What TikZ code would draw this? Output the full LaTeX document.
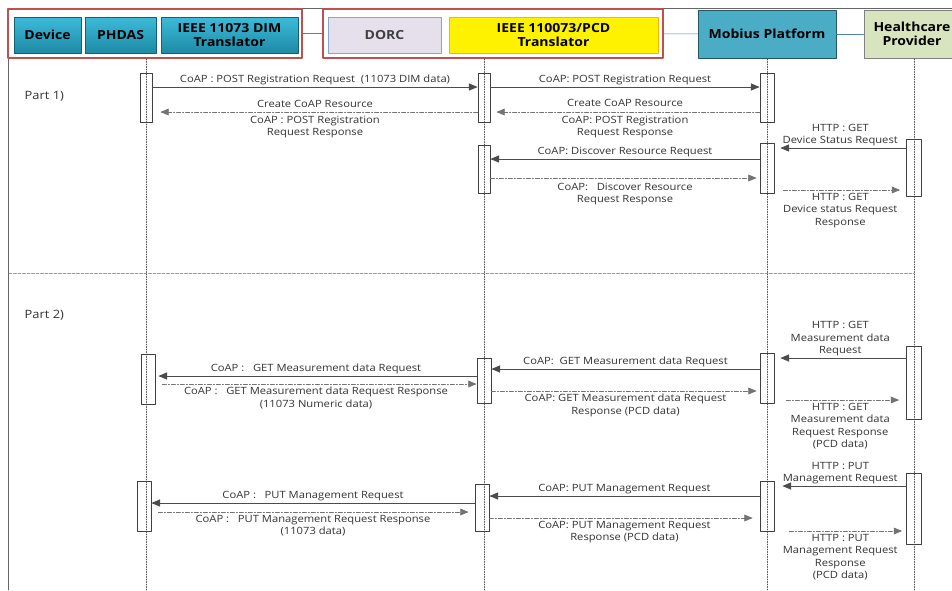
\documentclass[tikz,border=0pt]{standalone}
\usepackage{fontspec}
\setmainfont{Open Sans}
\newfontfamily\lblfont[FakeStretch=1.12]{Open Sans}
\usetikzlibrary{arrows}
\definecolor{tealtop}{HTML}{3CBBD9}
\definecolor{tealbot}{HTML}{1E8AA6}
\definecolor{mobfill}{HTML}{4BACC6}
\definecolor{hcpfill}{HTML}{D7E4BD}
\definecolor{dorcfill}{HTML}{E6E0EC}
\definecolor{grpred}{HTML}{C0504D}
\definecolor{linkblue}{HTML}{4F81BD}

\begin{document}
\begin{tikzpicture}[line cap=round,line join=round,>=triangle 45,x=1pt,y=-1pt,
  head/.style={draw=tealbot!70!black,top color=tealtop,bottom color=tealbot,inner sep=0,
    minimum height=36,align=center,font=\lblfont\fontsize{12.5}{13.5}\selectfont\bfseries},
  grp/.style={draw=grpred,line width=1.2pt,inner sep=0},
  link/.style={draw=linkblue,line width=0.5pt},
  life/.style={draw=black!70,line width=0.6pt,dash pattern=on 1pt off 1.5pt},
  act/.style={draw=black!75,line width=0.9pt,minimum width=12,inner sep=0},
  req/.style={->,draw=black!70,line width=1pt},
  rsp/.style={->,draw=black!55,line width=0.9pt,dash pattern=on 4pt off 2pt on 1pt off 2pt},
  lbl/.style={text=black!80,align=center,inner sep=1.5pt,font=\lblfont\fontsize{10}{12.5}\selectfont}]
\useasboundingbox (0,0) rectangle (952,590);
\fill[white] (0,0) rectangle (952,590);
% frame
\draw[black!60,line width=0.8pt] (952,8.5) -- (8.5,8.5) -- (8.5,590);
% header
\node[grp,minimum width=294,minimum height=49] (g1) at (155,33.5) {};
\node[grp,minimum width=340,minimum height=49] (g2) at (493,33.5) {};
\node[head,minimum width=67] (dev) at (47.5,35) {Device};
\node[head,minimum width=71] (phdas) at (120.5,35) {PHDAS};
\node[head,minimum width=137] (dim) at (229.5,35) {IEEE 11073 DIM\\Translator};
\node[draw=linkblue!70,fill=dorcfill,inner sep=0,minimum width=113,minimum height=36,
  font=\lblfont\fontsize{12.5}{13.5}\selectfont\bfseries,text=black!75] (dorc) at (384.5,35) {DORC};
\node[draw=orange!60!yellow,fill=yellow,inner sep=0,minimum width=209,minimum height=36,
  align=center,font=\lblfont\fontsize{12.5}{13.5}\selectfont\bfseries] (pcd) at (553.5,35) {IEEE 110073/PCD\\Translator};
\node[draw=mobfill!50!black,line width=1pt,fill=mobfill,inner sep=0,minimum width=138,minimum height=48,
  font=\lblfont\fontsize{12.5}{13.5}\selectfont\bfseries] (mob) at (767,34) {Mobius Platform};
\node[draw=black!50,line width=1pt,fill=hcpfill,inner sep=0,minimum width=96,minimum height=48,
  align=center,font=\lblfont\fontsize{12.5}{14}\selectfont\bfseries] (hcp) at (912,34) {Healthcare\\Provider};
\draw[link] (g1) -- (g2);
\draw[link] (g2) -- (mob);
\draw[link] (mob) -- (hcp);
% lifelines
\draw[life] (146,59) -- (146,590);
\draw[life] (484,59) -- (484,590);
\draw[life] (767,59) -- (767,590);
\draw[life] (914,59) -- (914,590);
\node[lbl,anchor=west,font=\lblfont\fontsize{11.5}{13}\selectfont] (p1) at (23,96) {Part 1)};
\node[lbl,anchor=west,font=\lblfont\fontsize{11.5}{13}\selectfont] (p2) at (23,315) {Part 2)};
\draw[black!40,line width=0.8pt,dash pattern=on 3pt off 1.5pt] (9,273) -- (914,273);
% part 1
\node[act,minimum height=49] (a1) at (146,97.5) {};
\node[act,minimum height=49] (b1) at (484,97.5) {};
\node[act,minimum height=49,minimum width=14] (c1) at (767,97.5) {};
\node[act,minimum height=48] (b2) at (484,169) {};
\node[act,minimum height=50,minimum width=14] (c2) at (767,168) {};
\node[act,minimum height=57,minimum width=15] (d1) at (914,167.5) {};
\draw[req] (a1.east |- 0,87) -- (b1.west |- 0,87)
  node[lbl,midway,above] {CoAP : POST Registration Request \ (11073 DIM data)};
\draw[rsp,shorten >=8pt] (b1.west |- 0,112) -- (a1.east |- 0,112)
  node[lbl,midway,above=2pt] {Create CoAP Resource}
  node[lbl,midway,below=2pt] {CoAP : POST Registration\\Request Response};
\draw[req] (b1.east |- 0,87) -- (c1.west |- 0,87)
  node[lbl,midway,above] {CoAP: POST Registration Request};
\draw[rsp,shorten >=6pt] (c1.west |- 0,112) -- (b1.east |- 0,112)
  node[lbl,midway,above=3pt] {Create CoAP Resource}
  node[lbl,midway,below=2pt] {CoAP: POST Registration\\Request Response};
\draw[req] (c2.west |- 0,159) -- (b2.east |- 0,159)
  node[lbl,midway,above] {CoAP: Discover Resource Request};
\draw[rsp,shorten >=3pt] (b2.east |- 0,178) -- (c2.west |- 0,178)
  node[lbl,midway,below=3pt] {CoAP: \ \ Discover Resource\\Request Response};
\draw[req,shorten >=6pt] (d1.west |- 0,148) -- (c2.east |- 0,148)
  node[lbl,midway,above] {HTTP : GET\\Device Status Request};
\draw[rsp,shorten <=9pt,shorten >=6pt] (c2.east |- 0,190) -- (d1.west |- 0,190)
  node[lbl,midway,below=1pt] {HTTP : GET\\Device status Request\\Response};
% part 2
\node[act,minimum height=73,minimum width=15] (d2) at (914,382.5) {};
\node[act,minimum height=50,minimum width=14] (c3) at (767,378) {};
\node[act,minimum height=45,minimum width=14] (b3) at (484,380.5) {};
\node[act,minimum height=50,minimum width=14] (a2) at (148,379) {};
\draw[req,shorten >=6pt] (d2.west |- 0,358) -- (c3.east |- 0,358)
  node[lbl,midway,above] {HTTP : GET\\Measurement data\\Request};
\draw[rsp,shorten <=12pt,shorten >=7pt] (c3.east |- 0,400) -- (d2.west |- 0,400)
  node[lbl,midway,below=1pt] {HTTP : GET\\Measurement data\\Request Response\\(PCD data)};
\draw[req] (c3.west |- 0,369) -- (b3.east |- 0,369)
  node[lbl,midway,above] {CoAP: \ GET Measurement data Request};
\draw[rsp,shorten >=3pt] (b3.east |- 0,391) -- (c3.west |- 0,391)
  node[lbl,midway,below=1pt] {CoAP: GET Measurement data Request\\Response (PCD data)};
\draw[req,shorten >=3pt] (b3.west |- 0,376) -- (a2.east |- 0,376)
  node[lbl,midway,above] {CoAP : \ \ GET Measurement data Request};
\draw[rsp,shorten <=7pt] (a2.east |- 0,384) -- (b3.west |- 0,384)
  node[lbl,midway,below=1pt] {CoAP : \ \ GET Measurement data Request Response\\(11073 Numeric data)};
\node[act,minimum height=71,minimum width=15] (d3) at (914,508.5) {};
\node[act,minimum height=50,minimum width=14] (c4) at (767,506) {};
\node[act,minimum height=47,minimum width=14] (b4) at (482,507.5) {};
\node[act,minimum height=50,minimum width=14] (a3) at (144,506) {};
\draw[req,shorten >=8pt] (d3.west |- 0,486) -- (c4.east |- 0,486)
  node[lbl,midway,above] {HTTP : PUT\\Management Request};
\draw[rsp,shorten <=15pt,shorten >=4pt] (c4.east |- 0,531) -- (d3.west |- 0,531)
  node[lbl,midway,below=1pt] {HTTP : PUT\\Management Request\\Response\\(PCD data)};
\draw[req] (c4.west |- 0,496) -- (b4.east |- 0,496)
  node[lbl,midway,above] {CoAP: PUT Management Request};
\draw[rsp,shorten >=7pt] (b4.east |- 0,518) -- (c4.west |- 0,518)
  node[lbl,midway,below=1pt] {CoAP: PUT Management Request\\Response (PCD data)};
\draw[req] (b4.west |- 0,503) -- (a3.east |- 0,503)
  node[lbl,midway,above] {CoAP : \ \ PUT Management Request};
\draw[rsp,shorten <=7pt,shorten >=6pt] (a3.east |- 0,512) -- (b4.west |- 0,512)
  node[lbl,midway,below=1pt] {CoAP : \ \ PUT Management Request Response\\(11073 data)};
\end{tikzpicture}
\end{document}
